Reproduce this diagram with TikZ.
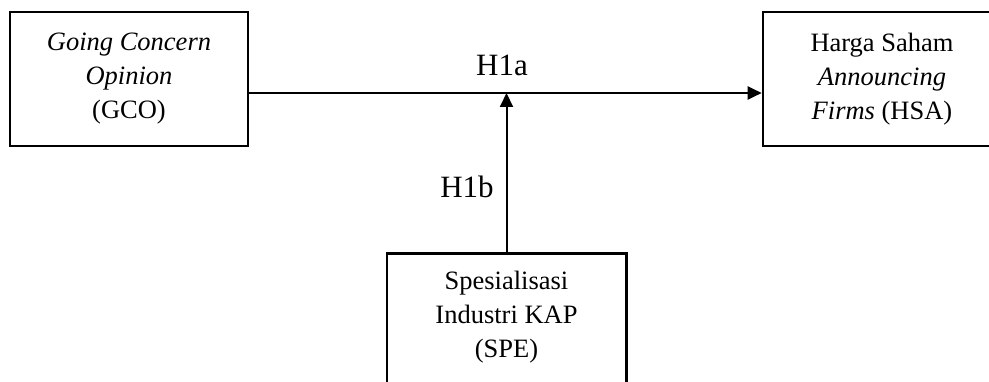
\documentclass[tikz,border=0pt]{standalone}
\usepackage{fontspec}
\setmainfont{Liberation Serif}
\usetikzlibrary{arrows.meta}
\begin{document}
\begin{tikzpicture}[x=1pt,y=-1pt,
  box/.style={draw=black,line width=2.6pt,align=center,inner sep=0pt,
    font=\fontsize{26.5}{34}\selectfont},
  txt/.style={align=center,inner sep=0pt,font=\fontsize{26.5}{34}\selectfont},
  conn/.style={line width=2pt,-{Triangle[length=14pt,width=13pt]}},
  lbl/.style={inner sep=0pt,font=\fontsize{31}{36}\selectfont}]
\clip (0,0) rectangle (989,382);
\fill[white] (0,0) rectangle (989,382);
\node[box,minimum width=238pt,minimum height=134pt] (gco) at (129,79)
  {\textit{Going Concern}\\ \textit{Opinion}\\ (GCO)};
\node[box,minimum width=238pt,minimum height=134pt] (hsa) at (882,79)
  {Harga Saham\\ \textit{Announcing}\\ \textit{Firms} (HSA)};
\node[txt,minimum width=239pt,minimum height=128pt] (spe) at (506.5,317)
  {Spesialisasi\\ Industri KAP\\ (SPE)};
\draw[line width=2.6pt] ([yshift=-20pt]spe.south west) -- ([yshift=-1pt]spe.north west)
  -- ([yshift=-1pt]spe.north east) -- ([yshift=-20pt]spe.south east);
\draw[conn] (gco.east |- 0,93) coordinate (a) -- (hsa.west |- a);
\coordinate (m) at (spe.north |- a);
\draw[conn] ([yshift=-1pt]spe.north) -- (m);
\node[lbl] (h1a) at (502,65) {H1a};
\node[lbl] (h1b) at (467,187) {H1b};
\end{tikzpicture}
\end{document}
